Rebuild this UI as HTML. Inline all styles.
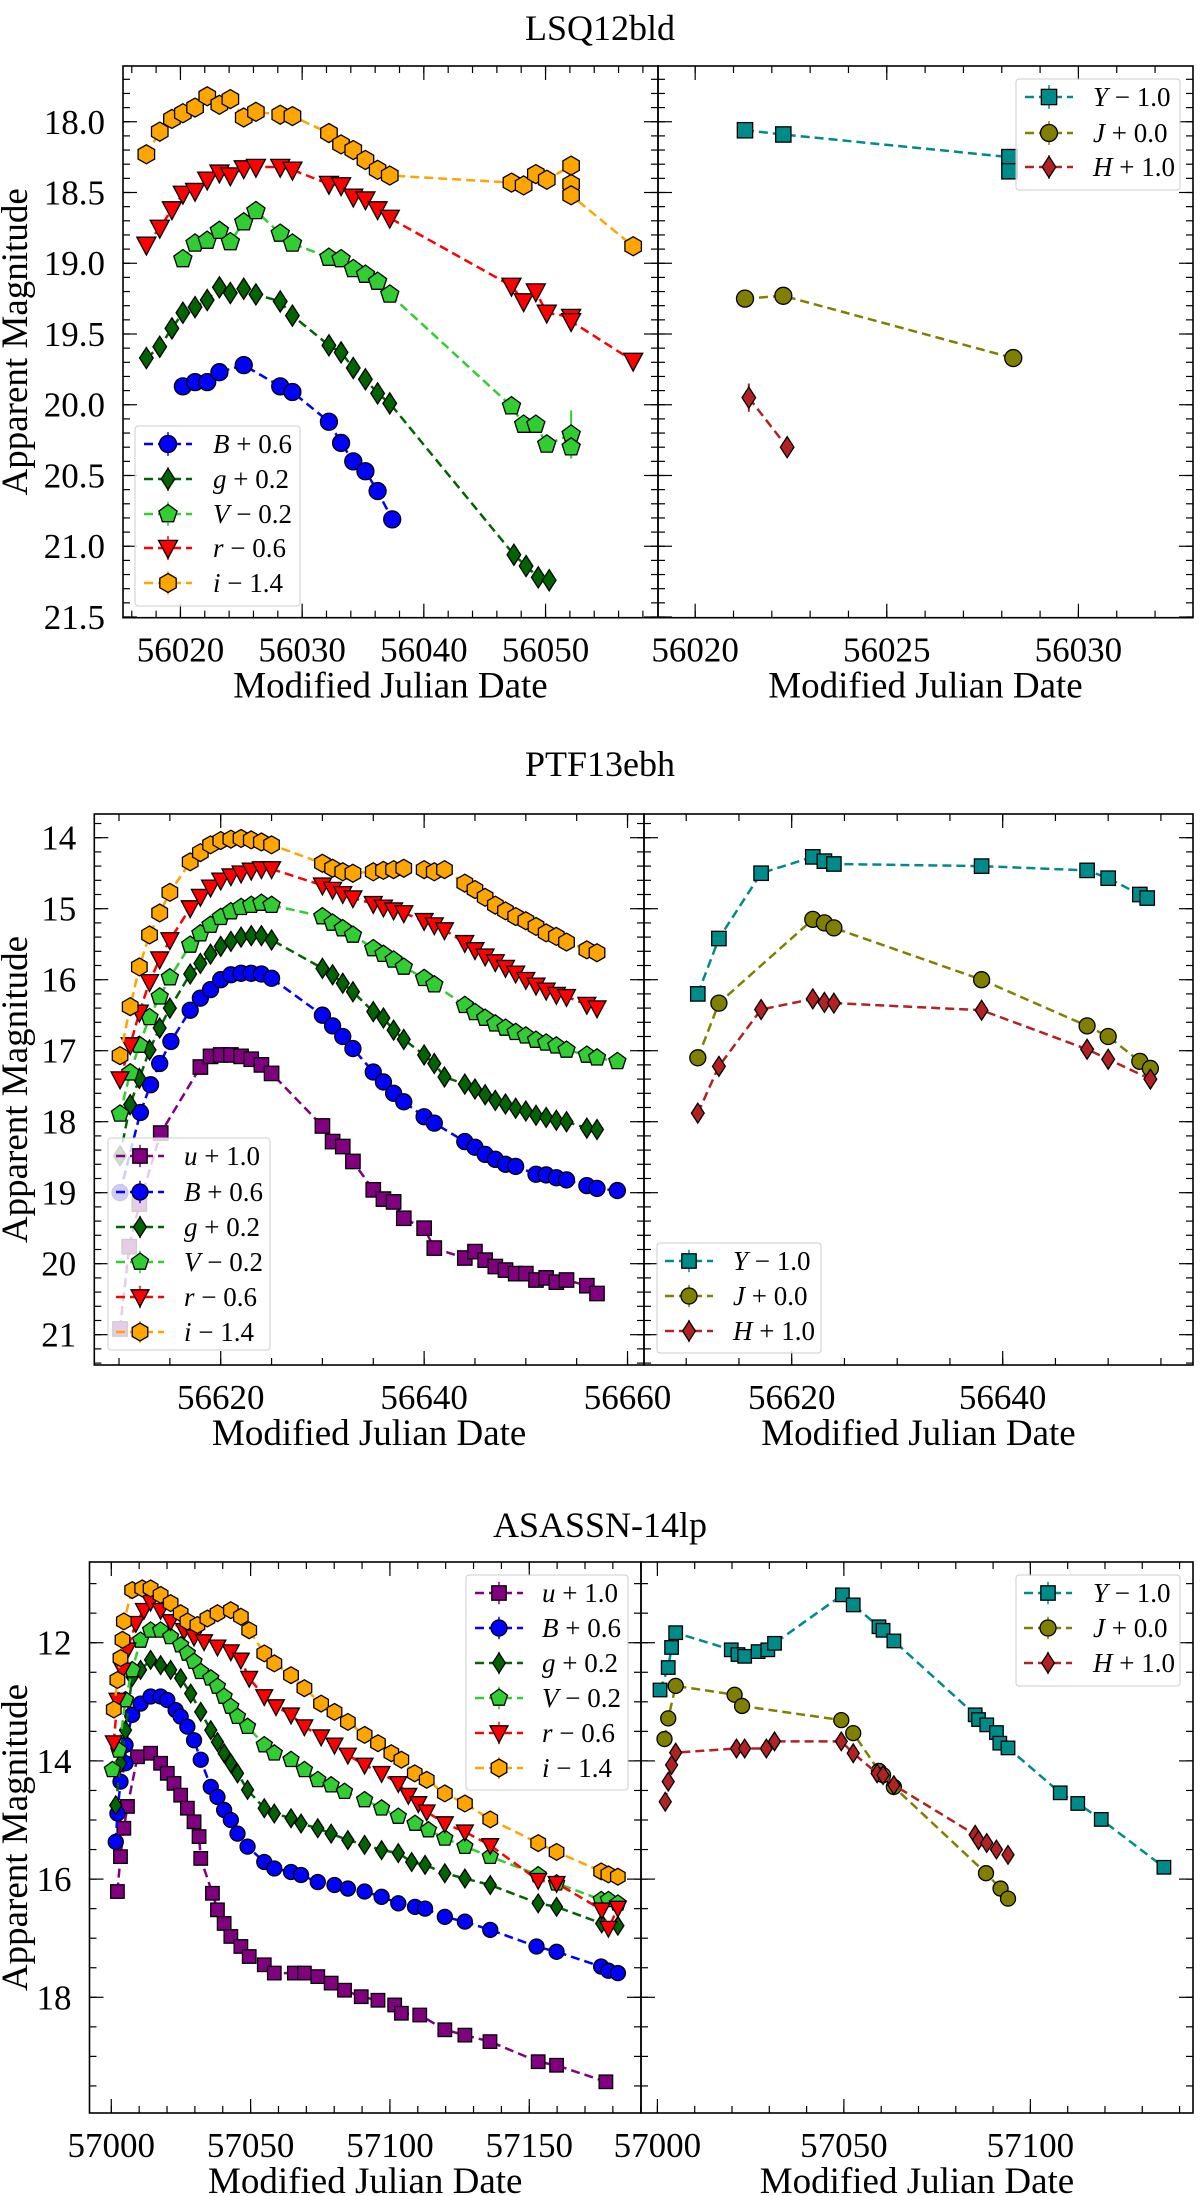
<!DOCTYPE html>
<html><head><meta charset="utf-8"><title>Light curves</title>
<style>
html,body{margin:0;padding:0;background:#fff;}
svg{display:block;font-family:"Liberation Serif","DejaVu Serif",serif;}
</style></head>
<body>
<svg id="fig" width="1200" height="2196" viewBox="0 0 1200 2196" xmlns="http://www.w3.org/2000/svg"></svg>
<script>
// ===== LSQ12bld =====
const lsq_i_day=[56017.2,56018.3,56019.3,56020.2,56021.2,56022.2,56023.2,56024.1,56025.2,56026.2,56028.2,56029.2,56032.2,56033.2,56034.2,56035.2,56036.2,56037.2,56047.2,56048.2,56049.2,56050.1,56052.1,56052.1,56052.1,56057.2];
const lsq_i_mag=[18.23,18.07,17.98,17.94,17.90,17.82,17.88,17.84,17.97,17.93,17.95,17.96,18.08,18.16,18.20,18.27,18.34,18.38,18.43,18.45,18.37,18.41,18.31,18.44,18.52,18.88];
const lsq_r_day=[56017.2,56018.3,56019.3,56020.2,56021.2,56022.2,56023.2,56024.1,56025.2,56026.2,56028.2,56029.2,56032.2,56033.2,56034.2,56035.2,56036.2,56037.2,56047.2,56048.2,56049.2,56050.1,56052.1,56052.1,56057.2];
const lsq_r_mag=[18.87,18.75,18.62,18.51,18.49,18.41,18.36,18.38,18.33,18.32,18.32,18.34,18.44,18.45,18.53,18.55,18.62,18.68,19.16,19.27,19.20,19.35,19.38,19.41,19.69];
const lsq_V_day=[56020.2,56021.2,56022.2,56023.2,56024.1,56025.2,56026.2,56028.2,56029.2,56032.2,56033.2,56034.2,56035.2,56036.2,56037.2,56047.2,56048.2,56049.2,56050.1,56052.1,56052.1];
const lsq_V_mag=[18.97,18.86,18.84,18.77,18.85,18.71,18.63,18.79,18.86,18.96,18.97,19.04,19.08,19.13,19.22,20.01,20.14,20.14,20.28,20.21,20.30];
const lsq_g_day=[56017.2,56018.3,56019.3,56020.2,56021.2,56022.2,56023.2,56024.1,56025.2,56026.2,56028.2,56029.2,56032.2,56033.2,56034.2,56035.2,56036.2,56037.2,56047.4,56048.4,56049.4,56050.3];
const lsq_g_mag=[19.67,19.59,19.46,19.35,19.31,19.26,19.17,19.21,19.18,19.22,19.27,19.37,19.58,19.63,19.74,19.82,19.92,19.99,21.06,21.14,21.22,21.24];
const lsq_B_day=[56020.2,56021.2,56022.2,56023.2,56025.2,56028.2,56029.2,56032.2,56033.2,56034.2,56035.2,56036.2,56037.4];
const lsq_B_mag=[19.87,19.84,19.84,19.77,19.72,19.87,19.91,20.12,20.27,20.40,20.47,20.61,20.81];
const lsq_Y_day=[56021.3,56022.3,56028.2,56028.2];
const lsq_Y_mag=[18.06,18.09,18.25,18.35];
const lsq_J_day=[56021.3,56022.3,56028.3];
const lsq_J_mag=[19.25,19.23,19.67];
const lsq_H_day=[56021.4,56022.4];
const lsq_H_mag=[19.95,20.30];

// ===== PTF13ebh =====
const ptf_i_day=[56610.1,56611.1,56612,56613,56614,56615,56617,56618,56619,56620,56621,56622,56623,56624,56625,56630,56631,56632,56633,56635,56636,56637,56638,56640,56641,56642,56644,56645,56646,56647,56648,56649,56650,56651,56652,56653,56654,56656,56657];
const ptf_i_mag=[17.07,16.38,15.82,15.37,15.06,14.77,14.34,14.21,14.10,14.04,14.02,14.01,14.03,14.06,14.10,14.36,14.43,14.48,14.50,14.48,14.46,14.45,14.43,14.45,14.48,14.45,14.64,14.73,14.84,14.95,15.03,15.11,15.17,15.25,15.34,15.39,15.47,15.58,15.62];
const ptf_r_day=[56610.1,56611.1,56612,56613,56614,56615,56617,56618,56619,56620,56621,56622,56623,56624,56625,56630,56631,56632,56633,56635,56636,56637,56638,56640,56641,56642,56644,56645,56646,56647,56648,56649,56650,56651,56652,56653,56654,56656,56657];
const ptf_r_mag=[17.40,16.92,16.46,16.03,15.71,15.44,14.99,14.83,14.70,14.60,14.54,14.50,14.46,14.44,14.44,14.67,14.73,14.79,14.85,14.93,14.98,15.02,15.06,15.17,15.23,15.30,15.48,15.58,15.67,15.75,15.83,15.91,16.00,16.08,16.15,16.21,16.24,16.35,16.40];
const ptf_V_day=[56610.1,56611.1,56612,56613,56614,56615,56617,56618,56619,56620,56621,56622,56623,56624,56625,56630,56631,56632,56633,56635,56636,56637,56638,56640,56641,56644,56645,56646,56647,56648,56649,56650,56651,56652,56653,56654,56656,56657,56659];
const ptf_V_mag=[17.89,17.31,16.92,16.53,16.24,15.97,15.51,15.35,15.23,15.12,15.04,14.98,14.95,14.92,14.95,15.11,15.20,15.28,15.37,15.56,15.64,15.72,15.82,15.98,16.07,16.36,16.46,16.54,16.62,16.68,16.74,16.79,16.85,16.89,16.93,16.99,17.06,17.10,17.15];
const ptf_g_day=[56610.1,56611.1,56612,56613,56614,56615,56617,56618,56619,56620,56621,56622,56623,56624,56625,56630,56631,56632,56633,56635,56636,56637,56638,56640,56641,56642,56644,56645,56646,56647,56648,56649,56650,56651,56652,56653,56654,56656,56657];
const ptf_g_mag=[18.48,17.76,17.39,16.99,16.68,16.40,15.92,15.77,15.64,15.53,15.46,15.40,15.38,15.38,15.44,15.84,15.93,16.05,16.17,16.45,16.54,16.71,16.84,17.06,17.18,17.37,17.47,17.54,17.62,17.70,17.75,17.81,17.85,17.91,17.94,17.98,18.00,18.09,18.11];
const ptf_B_day=[56610.1,56612.1,56613.1,56614,56615.1,56617,56618,56619,56620,56621,56622,56623,56624,56625,56630,56631,56632,56633,56635,56636,56637,56638,56640,56641,56644,56645,56646,56647,56648,56649,56651,56652,56653,56654,56656,56657,56659];
const ptf_B_mag=[19.0,17.87,17.48,17.18,16.87,16.43,16.26,16.14,16.00,15.93,15.91,15.91,15.92,15.98,16.50,16.65,16.80,16.97,17.30,17.44,17.60,17.72,17.93,18.02,18.28,18.36,18.46,18.53,18.60,18.63,18.74,18.75,18.79,18.82,18.90,18.94,18.97];
const ptf_u_day=[56610.1,56611,56612,56614.1,56618,56619,56620,56621,56622,56623,56624,56625,56630,56631,56632,56633,56635,56636,56637,56638,56640,56641,56644,56645,56646,56647,56648,56649,56650,56651,56652,56653,56654,56656,56657];
const ptf_u_mag=[20.92,19.76,19.16,18.16,17.23,17.08,17.06,17.06,17.08,17.12,17.20,17.32,18.06,18.28,18.35,18.56,18.96,19.09,19.13,19.36,19.50,19.78,19.92,19.83,19.95,20.04,20.09,20.14,20.14,20.23,20.20,20.26,20.23,20.31,20.42];
const ptf_Y_day=[56611.1,56613.1,56617.1,56622.0,56623.1,56624.0,56638.0,56648.0,56650.0,56653.0,56653.7];
const ptf_Y_mag=[16.2,15.42,14.5,14.27,14.33,14.37,14.4,14.46,14.57,14.8,14.85];
const ptf_J_day=[56611.1,56613.1,56622.0,56623.1,56624.0,56638.0,56648.0,56650.0,56653.0,56654.0];
const ptf_J_mag=[17.1,16.33,15.15,15.2,15.27,16.0,16.65,16.8,17.15,17.25];
const ptf_H_day=[56611.1,56613.1,56617.1,56622.0,56623.1,56624.0,56638.0,56648.0,56650.0,56654.0];
const ptf_H_mag=[17.88,17.22,16.42,16.27,16.32,16.33,16.43,16.98,17.12,17.4];

// ===== ASASSN-14lp =====
const asn_u_day=[57002.2,57003.3,57004.5,57005.8,57009.4,57014.1,57017.7,57020.1,57022.5,57024.9,57027.3,57029.7,57031.5,57032.1,57036.3,57038.1,57040.5,57042.9,57046.5,57049.5,57054.9,57058.5,57065.7,57069.3,57074.1,57078.9,57083.7,57089.7,57095.7,57101.7,57104.1,57110.7,57119.7,57126.9,57135.9,57153.2,57159.8,57177.5];
const asn_u_mag=[16.21,15.62,15.14,14.77,13.93,13.87,14.04,14.21,14.38,14.58,14.80,15.03,15.28,15.65,16.24,16.52,16.75,16.97,17.14,17.31,17.45,17.59,17.59,17.59,17.65,17.76,17.88,17.99,18.05,18.13,18.27,18.30,18.55,18.64,18.75,19.09,19.15,19.43];
const asn_B_day=[57001.6,57002.2,57003.3,57005.1,57005.1,57007.5,57010.5,57014.1,57017.7,57020.1,57023.1,57024.9,57027.3,57029.7,57032.1,57035.7,57038.1,57040.5,57042.9,57045.3,57048.9,57054.9,57058.5,57064.5,57068.1,57074.1,57080.1,57084.9,57090.9,57097.0,57103.0,57109.0,57112.6,57119.7,57126.9,57136.0,57152.6,57159.8,57175.8,57178.4,57181.8];
const asn_B_mag=[15.37,14.89,14.35,14.04,13.73,13.22,13.03,12.91,12.91,12.97,13.14,13.25,13.42,13.65,13.98,14.44,14.61,14.83,15.00,15.23,15.45,15.71,15.82,15.88,15.93,16.05,16.10,16.16,16.21,16.30,16.41,16.47,16.50,16.64,16.72,16.86,17.14,17.23,17.48,17.55,17.59];
const asn_g_day=[57001.6,57003.3,57005.1,57007.5,57010.5,57014.1,57017.7,57021.3,57024.9,57028.5,57032.1,57035.7,57038.1,57040.5,57042.9,57045.3,57048.9,57054.9,57058.5,57064.5,57068.1,57074.1,57078.9,57084.9,57090.9,57097.0,57103.0,57107.8,57112.6,57119.7,57126.9,57136.0,57153.2,57159.8,57176.0,57181.8];
const asn_g_mag=[14.75,14.04,13.48,12.58,12.46,12.29,12.38,12.46,12.60,12.86,13.17,13.48,13.68,13.87,14.04,14.21,14.49,14.80,14.89,14.97,15.06,15.14,15.23,15.34,15.42,15.51,15.56,15.71,15.76,15.90,15.99,16.10,16.41,16.47,16.75,16.79];
const asn_V_day=[57000.4,57002.7,57005.1,57007.5,57010.5,57014.1,57017.7,57021.3,57024.9,57027.3,57029.7,57032.1,57035.7,57038.1,57040.5,57042.9,57045.3,57048.9,57054.9,57058.5,57064.5,57069.3,57074.1,57078.9,57083.7,57090.9,57097.0,57103.0,57109.0,57113.8,57119.7,57126.9,57136.0,57153.2,57159.8,57175.8,57178.4,57181.8];
const asn_V_mag=[14.15,13.82,12.97,12.46,11.96,11.79,11.79,11.90,12.04,12.18,12.32,12.49,12.60,12.74,12.91,13.08,13.25,13.42,13.73,13.87,13.98,14.15,14.32,14.41,14.52,14.66,14.80,14.94,15.06,15.17,15.31,15.45,15.62,15.93,16.07,16.35,16.35,16.41];
const asn_r_day=[57000.9,57002.2,57004.0,57005.8,57008.8,57011.7,57014.1,57017.7,57021.3,57026.1,57029.7,57033.3,57038.1,57042.9,57046.5,57049.5,57054.9,57059.1,57064.5,57069.3,57075.3,57080.1,57084.9,57090.9,57097.0,57103.0,57106.6,57110.2,57113.2,57119.7,57126.9,57136.0,57153.2,57159.8,57176.0,57178.4,57181.8];
const asn_r_mag=[13.69,12.97,12.46,12.12,11.67,11.45,11.31,11.45,11.64,11.79,11.90,11.98,12.07,12.15,12.29,12.60,12.91,13.08,13.22,13.42,13.59,13.73,13.90,14.07,14.21,14.38,14.58,14.72,14.86,15.06,15.20,15.43,16.02,16.07,16.52,16.83,16.49];
const asn_i_day=[57000.9,57002.2,57003.3,57004.0,57004.5,57007.5,57011.1,57014.1,57017.7,57021.3,57024.9,57027.3,57030.9,57034.5,57038.1,57042.9,57046.5,57049.5,57054.9,57058.5,57064.5,57069.3,57075.3,57080.1,57084.9,57090.9,57095.7,57100.5,57104.1,57108.9,57113.2,57119.7,57126.9,57136.0,57153.2,57159.8,57175.8,57178.4,57181.8];
const asn_i_mag=[13.13,12.63,12.26,11.95,11.64,11.11,11.08,11.08,11.19,11.33,11.50,11.64,11.70,11.59,11.50,11.45,11.56,11.79,12.18,12.35,12.55,12.77,13.03,13.17,13.34,13.56,13.70,13.87,13.98,14.21,14.32,14.55,14.72,14.99,15.39,15.54,15.87,15.92,15.96];
const asn_Y_day=[57000.7,57002.9,57003.8,57004.9,57019.8,57021.6,57023.4,57027.0,57029.6,57031.4,57049.6,57052.5,57059.4,57060.5,57063.4,57085.2,57086.1,57088.3,57090.9,57091.8,57094.0,57108.0,57112.7,57119.0,57135.8];
const asn_Y_mag=[12.80,12.42,12.08,11.83,12.12,12.20,12.23,12.15,12.12,12.01,11.19,11.36,11.73,11.79,11.97,13.22,13.30,13.39,13.52,13.70,13.78,14.54,14.72,14.99,15.80];
const asn_J_day=[57001.9,57002.9,57004.9,57020.7,57022.7,57049.3,57052.5,57059.4,57060.5,57063.4,57088.1,57092.0,57094.0];
const asn_J_mag=[13.63,13.28,12.73,12.88,13.07,13.31,13.53,14.17,14.24,14.44,15.90,16.16,16.33];
const asn_H_day=[57002.1,57002.9,57003.8,57004.9,57021.2,57023.4,57029.2,57031.4,57049.3,57052.5,57058.9,57060.5,57063.4,57085.2,57086.1,57088.3,57090.9,57094.0];
const asn_H_mag=[14.69,14.35,14.07,13.86,13.79,13.79,13.79,13.67,13.67,13.87,14.21,14.24,14.41,15.25,15.34,15.39,15.50,15.59];

// ===== labels =====
const titles=["LSQ12bld","PTF13ebh","ASASSN-14lp"];
const opticalLabels=[["u","+ 1.0"],["B","+ 0.6"],["g","+ 0.2"],["V","\u2212 0.2"],["r","\u2212 0.6"],["i","\u2212 1.4"]];
const nirLabels=[["Y","\u2212 1.0"],["J","+ 0.0"],["H","+ 1.0"]];

const NS='http://www.w3.org/2000/svg';
const svg=document.getElementById('fig');
function mk(tag,attrs,parent){const e=document.createElementNS(NS,tag);for(const k in attrs)e.setAttribute(k,attrs[k]);parent.appendChild(e);return e;}

const COL={u:'#800080',B:'#0000ff',g:'#006400',V:'#32cd32',r:'#ff0000',i:'#ffa500',Y:'#008b8b',J:'#808000',H:'#b22222'};
const SHP={u:'s',B:'o',g:'d',V:'p',r:'v',i:'h',Y:'s',J:'o',H:'d'};

function poly(n,r,x,y,rot){const p=[];for(let k=0;k<n;k++){const a=rot+k*2*Math.PI/n;p.push((x+r*Math.sin(a)).toFixed(1)+','+(y-r*Math.cos(a)).toFixed(1));}return p.join(' ');}
function marker(g,shape,x,y,s,fill){
  let e;
  const st={fill:fill,stroke:'#000','stroke-width':1.3};
  if(shape==='o'){e=mk('circle',Object.assign({cx:x,cy:y,r:s*0.5},st),g);}
  else if(shape==='s'){const a=s*0.9;e=mk('rect',Object.assign({x:x-a/2,y:y-a/2,width:a,height:a},st),g);}
  else if(shape==='d'){const w=s*0.4,h=s*0.62;e=mk('polygon',Object.assign({points:`${x},${y-h} ${x+w},${y} ${x},${y+h} ${x-w},${y}`},st),g);}
  else if(shape==='p'){e=mk('polygon',Object.assign({points:poly(5,s*0.56,x,y,0)},st),g);}
  else if(shape==='h'){e=mk('polygon',Object.assign({points:poly(6,s*0.56,x,y,0)},st),g);}
  else if(shape==='v'){const w=s*0.56;e=mk('polygon',Object.assign({points:`${x-w},${y-s*0.45} ${x+w},${y-s*0.45} ${x},${y+s*0.6}`},st),g);}
  return e;
}

function fmt(v,dec){return v.toFixed(dec);}

function panel(cfg){
  const {x0,x1,y0,y1,dmin,dmax,mmin,mmax,name}=cfg;
  const sx=d=>x0+(d-dmin)/(dmax-dmin)*(x1-x0);
  const sy=m=>y0+(m-mmin)/(mmax-mmin)*(y1-y0);
  const g=mk('g',{},svg);
  
  
  const cid='clip-'+name;
  const cp=mk('clipPath',{id:cid},g);
  mk('rect',{x:x0,y:y0,width:x1-x0,height:y1-y0},cp);
  // ticks
  const tg=mk('g',{stroke:'#000','stroke-width':1.2},g);
  
  
  function xt(step,len,labels){
    for(let k=Math.ceil(dmin/step-1e-9);k*step<=dmax+1e-9;k++){
      const v=k*step,x=sx(v);
      mk('line',{x1:x,y1:y1,x2:x,y2:y1-len},tg);
      mk('line',{x1:x,y1:y0,x2:x,y2:y0+len},tg);
      if(labels){
        const t=mk('text',{x:x,y:y1+44,'text-anchor':'middle','font-size':35,fill:'#000',stroke:'none'},g);
        
        
        t.textContent=fmt(v,0);
      }
    }
  }
  function yt(step,len,labels,dec){
    for(let k=Math.ceil(mmin/step-1e-9);k*step<=mmax+1e-9;k++){
      const v=k*step,y=sy(v);
      mk('line',{x1:x0,y1:y,x2:x0+len,y2:y},tg);
      mk('line',{x1:x1,y1:y,x2:x1-len,y2:y},tg);
      if(labels){
        const t=mk('text',{x:x0-18,y:y+12,'text-anchor':'end','font-size':35,fill:'#000',stroke:'none'},g);
        
        
        t.textContent=fmt(v,dec);
      }
    }
  }
  xt(cfg.xminor,7,false); xt(cfg.xmajor,14,true);
  yt(cfg.yminor,7,false); yt(cfg.ymajor,14,cfg.ylabels,cfg.ydec);
  // series
  const dg=mk('g',{'clip-path':`url(#${cid})`},g);
  cfg.series.forEach(s=>{
    const sg=mk('g',{},dg);
    
    
    const pts=s.day.map((d,k)=>sx(d).toFixed(1)+','+sy(s.mag[k]).toFixed(1)).join(' ');
    const ln=mk('polyline',{points:pts,fill:'none',stroke:COL[s.band],'stroke-width':2.5,'stroke-dasharray':'9,5'},sg);
    
    
    if(s.err){s.err.forEach(e=>{const x=sx(s.day[e[0]]),y=sy(s.mag[e[0]]);const er=mk('line',{x1:x,x2:x,y1:sy(s.mag[e[0]]-e[1]),y2:sy(s.mag[e[0]]+e[1]),stroke:COL[s.band],'stroke-width':2},sg);});}
    s.day.forEach((d,k)=>{
      const m=marker(sg,SHP[s.band],sx(d),sy(s.mag[k]),cfg.ms,COL[s.band]);
      
      
    });
  });
  const fr=mk('rect',{x:x0,y:y0,width:x1-x0,height:y1-y0,fill:'none',stroke:'#000','stroke-width':1.6},g);
  
  
  const xl=mk('text',{x:(x0+x1)/2,y:y1+80,'text-anchor':'middle','font-size':37,fill:'#000'},g);
  
  
  xl.textContent='Modified Julian Date';
  if(cfg.ylabels){
    const yl=mk('text',{x:0,y:0,'text-anchor':'middle','font-size':37,fill:'#000',transform:`translate(27,${(y0+y1)/2}) rotate(-90)`},g);
    
    
    yl.textContent='Apparent Magnitude';
  }
  return g;
}

function legend(bx,by,bw,bh,entries,bands,ms,lx,rowY,txX){
  const g=mk('g',{},svg);
  
  
  mk('rect',{x:bx,y:by,width:bw,height:bh,rx:3,fill:'rgba(255,255,255,0.8)',stroke:'#cccccc','stroke-width':1},g);
  entries.forEach((e,k)=>{
    const b=bands[k],y=rowY[k];
    const eg=mk('g',{},g);
    
    
    mk('line',{x1:lx-24,x2:lx+24,y1:y,y2:y,stroke:COL[b],'stroke-width':2.5,'stroke-dasharray':'9,5'},eg);
    mk('line',{x1:lx,x2:lx,y1:y-ms*0.7,y2:y+ms*0.7,stroke:COL[b],'stroke-width':1.5},eg);
    marker(eg,SHP[b],lx,y,ms,COL[b]);
    const t=mk('text',{x:txX,y:y+9,'font-size':27,fill:'#000'},eg);
    const a=mk('tspan',{'font-style':'italic'},t);a.textContent=e[0];
    const c=mk('tspan',{},t);c.textContent=' '+e[1];
  });
}

function title(txt,y){const t=mk('text',{x:600,y:y,'text-anchor':'middle','font-size':36,fill:'#000'},svg);t.textContent=txt;}

// Row 1
title(titles[0],40);
panel({name:'lsq12bld-optical',x0:123,x1:658,y0:66,y1:617.7,dmin:56015.28,dmax:56059.24,mmin:17.606,mmax:21.505,xmajor:10,xminor:2,ymajor:0.5,yminor:0.1,ydec:1,ylabels:true,ms:17,
 series:[{band:'B',day:lsq_B_day,mag:lsq_B_mag},{band:'g',day:lsq_g_day,mag:lsq_g_mag},{band:'V',day:lsq_V_day,mag:lsq_V_mag,err:[[19,0.17]]},{band:'r',day:lsq_r_day,mag:lsq_r_mag},{band:'i',day:lsq_i_day,mag:lsq_i_mag}]});
panel({name:'lsq12bld-nir',x0:658,x1:1193,y0:66,y1:617.7,dmin:56019.03,dmax:56032.99,mmin:17.606,mmax:21.505,xmajor:5,xminor:1,ymajor:0.5,yminor:0.1,ydec:1,ylabels:false,ms:17,
 series:[{band:'Y',day:lsq_Y_day,mag:lsq_Y_mag},{band:'J',day:lsq_J_day,mag:lsq_J_mag},{band:'H',day:lsq_H_day,mag:lsq_H_mag,err:[[0,0.1]]}]});
legend(135,426,165,180,opticalLabels.slice(1),['B','g','V','r','i'],17,168,[444,479,514,548,583],213);
legend(1016,79,164,111,nirLabels,['Y','J','H'],17,1049,[97,133,167],1093);

// Row 2
title(titles[1],776);
panel({name:'ptf13ebh-optical',x0:94.3,x1:644,y0:814,y1:1365,dmin:56607.57,dmax:56661.62,mmin:13.666,mmax:21.427,xmajor:20,xminor:5,ymajor:1,yminor:0.2,ydec:0,ylabels:true,ms:16,
 series:[{band:'u',day:ptf_u_day,mag:ptf_u_mag},{band:'B',day:ptf_B_day,mag:ptf_B_mag},{band:'g',day:ptf_g_day,mag:ptf_g_mag},{band:'V',day:ptf_V_day,mag:ptf_V_mag},{band:'r',day:ptf_r_day,mag:ptf_r_mag},{band:'i',day:ptf_i_day,mag:ptf_i_mag}]});
panel({name:'ptf13ebh-nir',x0:644,x1:1193,y0:814,y1:1365,dmin:56606.0,dmax:56658.04,mmin:13.666,mmax:21.427,xmajor:20,xminor:5,ymajor:1,yminor:0.2,ydec:0,ylabels:false,ms:16,
 series:[{band:'Y',day:ptf_Y_day,mag:ptf_Y_mag},{band:'J',day:ptf_J_day,mag:ptf_J_mag},{band:'H',day:ptf_H_day,mag:ptf_H_mag}]});
legend(108,1138,162,212,opticalLabels,['u','B','g','V','r','i'],16,140,[1156,1192,1227,1262,1297,1332],184);
legend(657,1243,164,110,nirLabels,['Y','J','H'],16,689,[1261,1296,1331],733);

// Row 3
title(titles[2],1537);
panel({name:'asassn14lp-optical',x0:89.5,x1:641,y0:1562,y1:2113,dmin:56992.18,dmax:57190.1,mmin:10.634,mmax:19.958,xmajor:50,xminor:10,ymajor:2,yminor:0.5,ydec:0,ylabels:true,ms:15,
 series:[{band:'u',day:asn_u_day,mag:asn_u_mag},{band:'B',day:asn_B_day,mag:asn_B_mag},{band:'g',day:asn_g_day,mag:asn_g_mag},{band:'V',day:asn_V_day,mag:asn_V_mag},{band:'r',day:asn_r_day,mag:asn_r_mag},{band:'i',day:asn_i_day,mag:asn_i_mag}]});
panel({name:'asassn14lp-nir',x0:641,x1:1193,y0:1562,y1:2113,dmin:56995.6,dmax:57143.6,mmin:10.634,mmax:19.958,xmajor:50,xminor:10,ymajor:2,yminor:0.5,ydec:0,ylabels:false,ms:15,
 series:[{band:'Y',day:asn_Y_day,mag:asn_Y_mag},{band:'J',day:asn_J_day,mag:asn_J_mag},{band:'H',day:asn_H_day,mag:asn_H_mag}]});
legend(466,1575,162,215,opticalLabels,['u','B','g','V','r','i'],16,499,[1593,1628,1663,1698,1733,1768],542);
legend(1016,1575,164,111,nirLabels,['Y','J','H'],16,1048,[1593,1628,1663],1093);
</script>
</body></html>
